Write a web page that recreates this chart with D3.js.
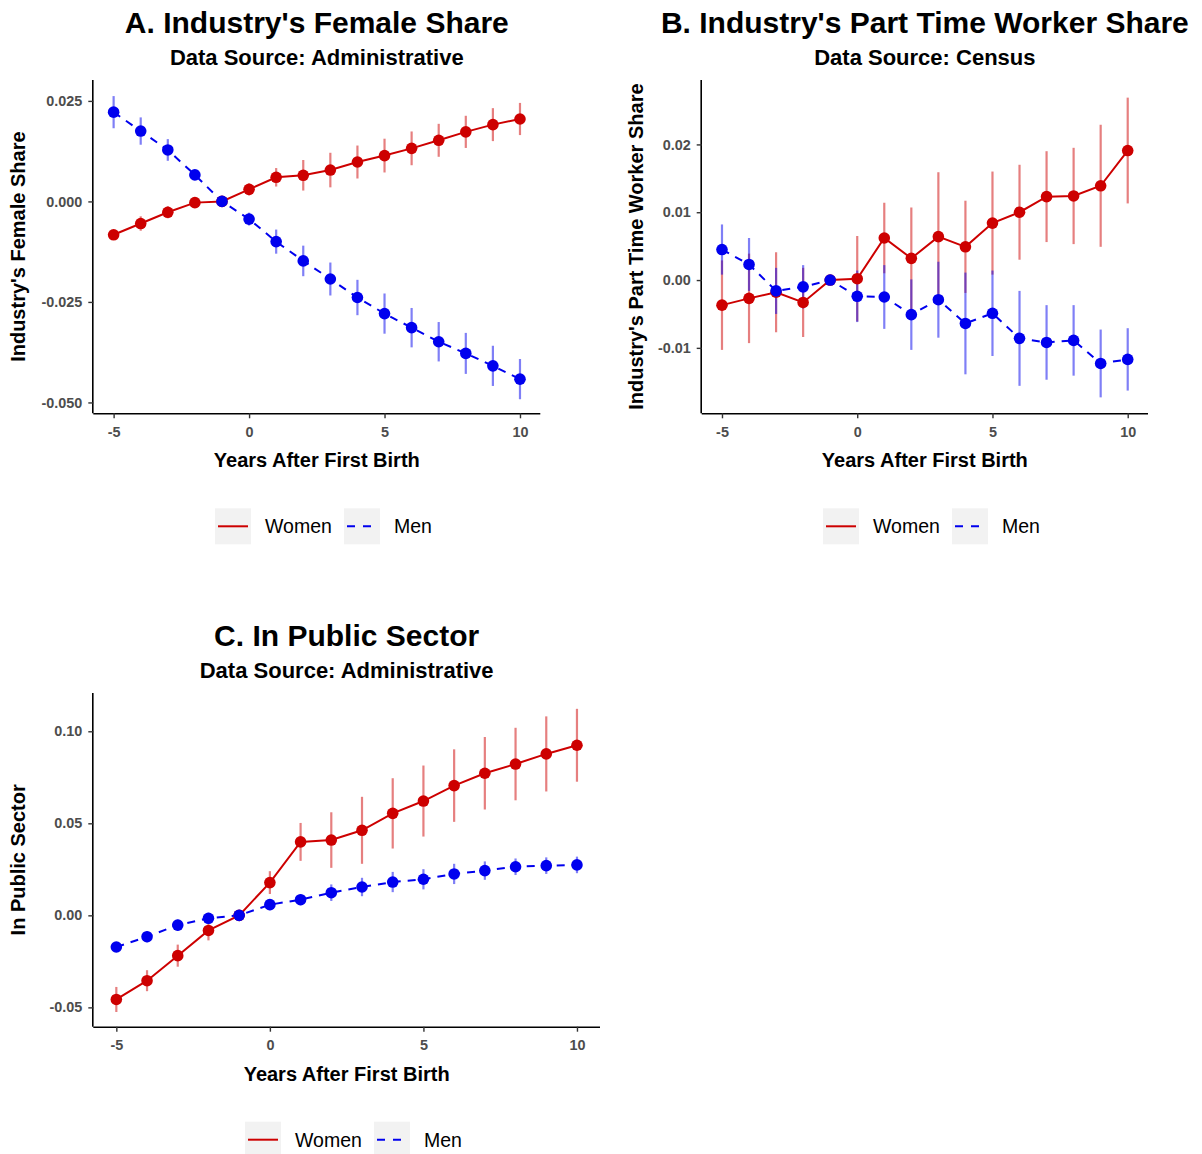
<!DOCTYPE html>
<html><head><meta charset="utf-8">
<script src="https://cdn.jsdelivr.net/npm/d3@7"></script>
<style>
html,body{margin:0;padding:0;background:#fff;}
svg{display:block;font-family:"Liberation Sans",Arial,sans-serif;}
</style></head>
<body>
<svg id="chart" width="1202" height="1154"></svg>
<script>
// ---------------- data ----------------
const years = [-5,-4,-3,-2,-1,0,1,2,3,4,5,6,7,8,9,10];
const xTicks = [-5,0,5,10];
const xLabels = ["-5","0","5","10"];
const seriesNames = ["Women","Men"];

// Panel A: Industry's Female Share (Administrative)
const aWomen   = [-0.0083,-0.0055,-0.0027,-0.0003,0,0.0030,0.0060,0.0065,0.0078,0.0098,0.0114,0.0132,0.0152,0.0173,0.0191,0.0205];
const aWomenCI = [0.0008,0.0018,0.0015,0.0010,0,0.0015,0.0023,0.0038,0.0043,0.0041,0.0042,0.0042,0.0041,0.0040,0.0041,0.0040];
const aMen     = [0.0222,0.0175,0.0128,0.0066,0,-0.0044,-0.0100,-0.0148,-0.0193,-0.0239,-0.0279,-0.0314,-0.0349,-0.0378,-0.0409,-0.0442];
const aMenCI   = [0.0040,0.0034,0.0027,0.0010,0,0.0016,0.0030,0.0038,0.0041,0.0044,0.0050,0.0049,0.0049,0.0051,0.0050,0.0050];
const aYTicks  = [-0.05,-0.025,0,0.025];
const aYLabels = ["-0.050","-0.025","0.000","0.025"];

// Panel B: Industry's Part Time Worker Share (Census)
const bWomen   = [-0.0037,-0.0027,-0.0018,-0.0033,0,0.0002,0.0062,0.0032,0.0064,0.0049,0.0084,0.0100,0.0123,0.0124,0.0139,0.0191];
const bWomenCI = [0.0066,0.0066,0.0059,0.0051,0,0.0063,0.0052,0.0075,0.0095,0.0068,0.0076,0.0070,0.0067,0.0071,0.0090,0.0078];
const bMen     = [0.0045,0.0023,-0.0016,-0.0010,0,-0.0024,-0.0025,-0.0051,-0.0029,-0.0064,-0.0049,-0.0086,-0.0092,-0.0089,-0.0123,-0.0117];
const bMenCI   = [0.0037,0.0039,0.0034,0.0032,0,0.0038,0.0047,0.0052,0.0056,0.0075,0.0063,0.0070,0.0055,0.0052,0.0050,0.0046];
const bYTicks  = [-0.01,0,0.01,0.02];
const bYLabels = ["-0.01","0.00","0.01","0.02"];

// Panel C: In Public Sector (Administrative)
const cWomen   = [-0.0457,-0.0355,-0.0219,-0.0082,0,0.0178,0.0399,0.0409,0.0462,0.0554,0.0621,0.0705,0.0772,0.0822,0.0877,0.0924];
const cWomenCI = [0.0068,0.0057,0.0060,0.0054,0,0.0062,0.0103,0.0151,0.0182,0.0191,0.0193,0.0197,0.0197,0.0197,0.0204,0.0198];
const cMen     = [-0.0172,-0.0116,-0.0053,-0.0016,0,0.0058,0.0085,0.0123,0.0154,0.0181,0.0196,0.0225,0.0243,0.0264,0.0270,0.0274];
const cMenCI   = [0.0025,0.0030,0.0030,0.0030,0,0.0030,0.0030,0.0045,0.0050,0.0055,0.0055,0.0055,0.0050,0.0045,0.0045,0.0045];
const cYTicks  = [-0.05,0,0.05,0.10];
const cYLabels = ["-0.05","0.00","0.05","0.10"];

// ---------------- drawing ----------------
const svg = d3.select("#chart");
const RED = "#cd0000", BLUE = "#0000ee";
const RED_ERR = "rgba(205,0,0,0.5)", BLUE_ERR = "rgba(0,0,238,0.5)";

function panel(cfg) {
  const {left, right, top, bottom, yDomain, title, subtitle, yTitle,
         women, womenCI, men, menCI, yTicks, yLabels, yTitleX, legendX} = cfg;
  const g = svg.append("g");
  const x = d3.scaleLinear().domain([-5.75, 10.75]).range([left, right]);
  const y = d3.scaleLinear().domain(yDomain).range([bottom, top]);
  const cx = (left + right) / 2;

  // titles
  g.append("text").attr("x", cx).attr("y", top - 47).attr("text-anchor", "middle")
    .attr("font-size", 30).attr("font-weight", "bold").attr("fill", "#000").text(title);
  g.append("text").attr("x", cx).attr("y", top - 15).attr("text-anchor", "middle")
    .attr("font-size", 22).attr("font-weight", "bold").attr("fill", "#000").text(subtitle);

  // axes
  const xAxis = d3.axisBottom(x).tickValues(xTicks).tickSize(5).tickPadding(8.5)
    .tickFormat((d, i) => xLabels[i]);
  const yAxis = d3.axisLeft(y).tickValues(yTicks).tickSize(5).tickPadding(6)
    .tickFormat((d, i) => yLabels[i]);
  const gx = g.append("g").attr("transform", `translate(0,${bottom})`).call(xAxis);
  const gy = g.append("g").attr("transform", `translate(${left},0)`).call(yAxis);
  [gx, gy].forEach(a => {
    a.select(".domain").attr("stroke", "#000").attr("stroke-width", 1.6)
      .attr("d", a === gx ? `M${left},0.5H${right}` : `M-0.5,${top}V${bottom}`);
    a.selectAll(".tick line").attr("stroke", "#333").attr("stroke-width", 1.4);
    a.selectAll(".tick text").attr("fill", "#4d4d4d").attr("font-size", 14.4)
      .attr("font-weight", "bold").attr("font-family", "Liberation Sans, Arial, sans-serif");
  });

  // axis titles
  g.append("text").attr("x", cx).attr("y", bottom + 54).attr("text-anchor", "middle")
    .attr("font-size", 20).attr("font-weight", "bold").text("Years After First Birth");
  g.append("text").attr("transform", `translate(${yTitleX},${(top + bottom) / 2}) rotate(-90)`)
    .attr("text-anchor", "middle").attr("font-size", 20).attr("font-weight", "bold").text(yTitle);

  const series = [
    {name: seriesNames[0], v: women, ci: womenCI, col: RED, err: RED_ERR, dash: null},
    {name: seriesNames[1], v: men, ci: menCI, col: BLUE, err: BLUE_ERR, dash: "8,7"}
  ];
  // error bars
  series.forEach(s => {
    g.append("g").selectAll("line").data(years).join("line")
      .attr("x1", d => x(d)).attr("x2", d => x(d))
      .attr("y1", (d, i) => y(s.v[i] - s.ci[i])).attr("y2", (d, i) => y(s.v[i] + s.ci[i]))
      .attr("stroke", s.err).attr("stroke-width", 2.2);
  });
  // lines
  series.forEach(s => {
    const line = d3.line().x(d => x(d)).y((d, i) => y(s.v[i]));
    g.append("path").datum(years).attr("d", line).attr("fill", "none")
      .attr("stroke", s.col).attr("stroke-width", 2)
      .attr("stroke-dasharray", s.dash);
  });
  // points
  series.forEach(s => {
    g.append("g").selectAll("circle").data(years).join("circle")
      .attr("cx", d => x(d)).attr("cy", (d, i) => y(s.v[i])).attr("r", 5.8)
      .attr("fill", s.col);
  });

  // legend
  const ly = bottom + 113;
  let lx = legendX;
  series.forEach((s, k) => {
    const lg = g.append("g").attr("transform", `translate(${lx},${ly})`);
    lg.append("rect").attr("x", 0).attr("y", -18).attr("width", 36).attr("height", 36).attr("fill", "#f2f2f2");
    lg.append("line").attr("x1", 3).attr("x2", 33).attr("y1", 0).attr("y2", 0)
      .attr("stroke", s.col).attr("stroke-width", 2).attr("stroke-dasharray", s.dash ? "8,8" : null);
    lg.append("text").attr("x", 50).attr("y", 7).attr("font-size", 19.5).attr("fill", "#000").text(s.name);
    lx += 129;
  });
}

panel({left: 93.3, right: 540.3, top: 80, bottom: 413.3, yDomain: [-0.0527, 0.0302],
  title: "A. Industry's Female Share", subtitle: "Data Source: Administrative",
  yTitle: "Industry's Female Share", yTitleX: 25,
  women: aWomen, womenCI: aWomenCI, men: aMen, menCI: aMenCI,
  yTicks: aYTicks, yLabels: aYLabels, legendX: 215});

panel({left: 701.7, right: 1148, top: 80, bottom: 413.3, yDomain: [-0.01965, 0.0295],
  title: "B. Industry's Part Time Worker Share", subtitle: "Data Source: Census",
  yTitle: "Industry's Part Time Worker Share", yTitleX: 643,
  women: bWomen, womenCI: bWomenCI, men: bMen, menCI: bMenCI,
  yTicks: bYTicks, yLabels: bYLabels, legendX: 823});

panel({left: 93.3, right: 600, top: 693, bottom: 1026.7, yDomain: [-0.0605, 0.1208],
  title: "C. In Public Sector", subtitle: "Data Source: Administrative",
  yTitle: "In Public Sector", yTitleX: 25,
  women: cWomen, womenCI: cWomenCI, men: cMen, menCI: cMenCI,
  yTicks: cYTicks, yLabels: cYLabels, legendX: 245});
</script>
</body></html>
